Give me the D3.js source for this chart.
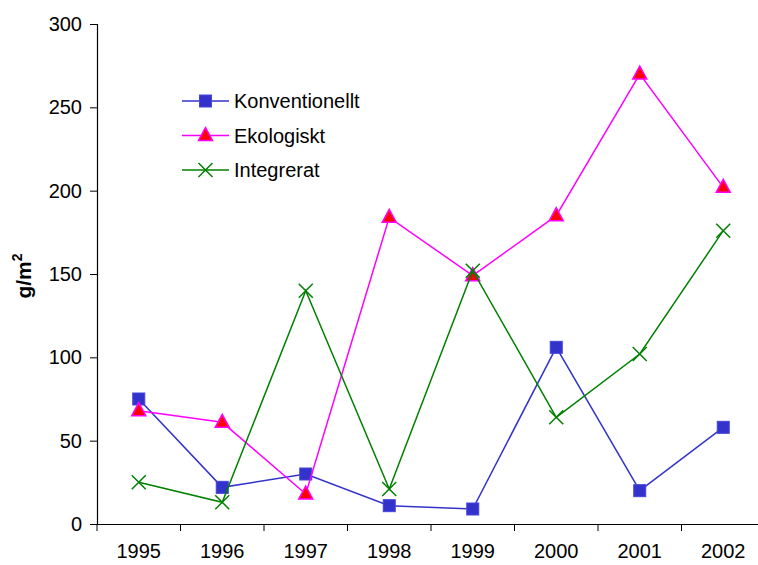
<!DOCTYPE html>
<html>
<head>
<meta charset="utf-8">
<script src="https://cdn.jsdelivr.net/npm/d3@7"></script>
<style>
  html, body { margin: 0; padding: 0; background: #fff; }
  svg { display: block; font-family: Arial, "Liberation Sans", sans-serif; }
</style>
</head>
<body>
<svg id="chart" width="758" height="565"></svg>
<script>
// Yearly values, g/m²
const years = ["1995", "1996", "1997", "1998", "1999", "2000", "2001", "2002"];
const konventionellt = [75, 22, 30, 11, 9, 106, 20, 58];
const ekologiskt = [68, 61, 18, 184, 149, 185, 270, 202];
const integrerat = [25, 13, 140, 21, 152, 64, 102, 176];
const yTicks = [0, 50, 100, 150, 200, 250, 300];
const seriesNames = ["Konventionellt", "Ekologiskt", "Integrerat"];

const series = [
  { name: seriesNames[0], values: konventionellt, color: "#3333CC", marker: "square" },
  { name: seriesNames[1], values: ekologiskt, color: "#FF00FF", marker: "triangle" },
  { name: seriesNames[2], values: integrerat, color: "#008000", marker: "cross" }
];

const svg = d3.select("#chart");
const plotLeft = 97, plotRight = 765, plotTop = 24, plotBottom = 524;

const x = d3.scaleBand().domain(years).range([plotLeft, plotRight]);
const y = d3.scaleLinear().domain([0, 300]).range([plotBottom, plotTop]);

// Axes
const yAxis = svg.append("g")
  .attr("transform", `translate(${plotLeft},0)`)
  .call(d3.axisLeft(y).tickValues(yTicks).tickSize(7).tickPadding(8));
const xAxis = svg.append("g")
  .attr("transform", `translate(0,${plotBottom})`)
  .call(d3.axisBottom(x).tickSize(0).tickPadding(20));
// category boundary ticks
xAxis.selectAll(".bound")
  .data(years.concat(["end"]))
  .enter().append("line")
  .attr("class", "bound")
  .attr("x1", (d, i) => plotLeft + i * x.step())
  .attr("x2", (d, i) => plotLeft + i * x.step())
  .attr("y1", 0).attr("y2", 7)
  .attr("stroke", "#000");

[yAxis, xAxis].forEach(g => {
  g.select(".domain").attr("stroke", "#000").attr("stroke-width", 1.2);
  g.selectAll(".tick line").attr("stroke", "#000");
  g.selectAll("text").attr("font-size", 20).attr("fill", "#000")
    .attr("font-family", "Arial, 'Liberation Sans', sans-serif");
});

// y-axis title
const yt = svg.append("text")
  .attr("transform", "translate(31,276) rotate(-90)")
  .attr("text-anchor", "middle")
  .attr("font-size", 21)
  .attr("font-weight", "bold");
yt.append("tspan").text("g/m");
yt.append("tspan").attr("font-size", 14).attr("dy", -9).text("2");

function drawMarker(g, type, color, cx, cy) {
  if (type === "square") {
    g.append("rect").attr("x", cx - 6).attr("y", cy - 6).attr("width", 12).attr("height", 12)
      .attr("fill", "#3333CC").attr("stroke", "#4444DD").attr("stroke-width", 1);
  } else if (type === "triangle") {
    g.append("path")
      .attr("d", `M${cx},${cy - 8}L${cx + 7},${cy + 5}L${cx - 7},${cy + 5}Z`)
      .attr("fill", "#FF0000").attr("stroke", "#FF00FF").attr("stroke-width", 1.5);
  } else {
    g.append("path")
      .attr("d", `M${cx - 7},${cy - 7}L${cx + 7},${cy + 7}M${cx - 7},${cy + 7}L${cx + 7},${cy - 7}`)
      .attr("stroke", color).attr("stroke-width", 1.5).attr("fill", "none");
  }
}

const line = d3.line().x((d, i) => x(years[i]) + x.bandwidth() / 2).y(d => y(d));

series.forEach(s => {
  const g = svg.append("g");
  g.append("path").attr("d", line(s.values)).attr("fill", "none")
    .attr("stroke", s.color).attr("stroke-width", 1.5);
  s.values.forEach((v, i) => drawMarker(g, s.marker, s.color, x(years[i]) + x.bandwidth() / 2, y(v)));
});

// Legend
const legendRows = [101, 135.5, 170];
series.forEach((s, i) => {
  const g = svg.append("g");
  const ly = legendRows[i];
  g.append("line").attr("x1", 182).attr("x2", 229).attr("y1", ly).attr("y2", ly)
    .attr("stroke", s.color).attr("stroke-width", 1.5);
  drawMarker(g, s.marker, s.color, 205.5, ly);
  g.append("text").attr("x", 234).attr("y", ly).attr("dy", "0.35em")
    .attr("font-size", 20).text(s.name);
});
</script>
</body>
</html>
